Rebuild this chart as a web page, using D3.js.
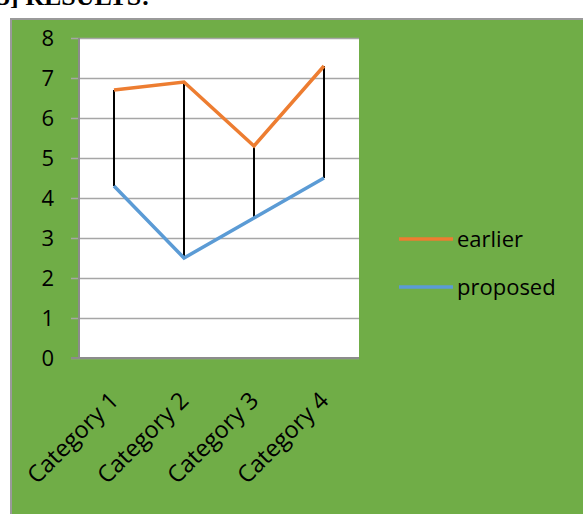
<html>
<head>
<meta charset="UTF-8">
<script src="https://d3js.org/d3.v7.min.js"></script>
<style>
  body { margin: 0; background: #fff; }
  text { font-family: "Open Sans", "Noto Sans", sans-serif; }
</style>
</head>
<body>
<svg id="chart" width="583" height="514"></svg>
<script>
const categories = ['Category 1', 'Category 2', 'Category 3', 'Category 4'];
const earlier = [6.7, 6.9, 5.3, 7.3];
const proposed = [4.3, 2.5, 3.5, 4.5];
const yTicks = [0, 1, 2, 3, 4, 5, 6, 7, 8];
const seriesNames = ['earlier', 'proposed'];
const colors = ['#ED7D31', '#5B9BD5'];

const svg = d3.select('svg#chart');
const plot = {left: 79, right: 359, top: 38, bottom: 358};

// heading cut off at the top
svg.append('text')
   .attr('x', -3).attr('y', 5)
   .style('font-family', '"Liberation Serif", serif')
   .style('font-weight', 'bold')
   .style('font-size', '26px')
   .text('5] RESULTS:');

// green chart background
svg.append('rect')
   .attr('x', 11).attr('y', 19)
   .attr('width', 600).attr('height', 520)
   .attr('fill', '#70AD47')
   .attr('stroke', '#9a9a9a')
   .attr('stroke-width', 2);

svg.append('rect')
   .attr('x', plot.left).attr('y', plot.top)
   .attr('width', plot.right - plot.left).attr('height', plot.bottom - plot.top)
   .attr('fill', '#fff');

const y = d3.scaleLinear().domain([0, 8]).range([plot.bottom, plot.top]);
const x = d3.scaleBand().domain(categories).range([plot.left, plot.right]);
const cx = d => x(d) + x.bandwidth() / 2;

// gridlines + left ticks
const yAxis = d3.axisLeft(y).tickValues(yTicks).tickSize(-(plot.right - plot.left + 8));
const gy = svg.append('g')
   .attr('transform', `translate(${plot.right},0)`)
   .call(yAxis);
gy.select('.domain').remove();
gy.selectAll('.tick line')
   .attr('x1', 0).attr('x2', -(plot.right - plot.left + 8))
   .attr('stroke', '#a6a6a6').attr('stroke-width', 1.5);
gy.selectAll('.tick text')
   .attr('x', -(plot.right - 54))
   .attr('dy', '0.36em')
   .attr('text-anchor', 'end')
   .style('font-family', '"Open Sans", sans-serif')
   .style('font-size', '22px').attr('fill', '#000');

// axis lines
svg.append('line')
   .attr('x1', plot.left).attr('x2', plot.left)
   .attr('y1', plot.top).attr('y2', plot.bottom)
   .attr('stroke', '#8c8c8c').attr('stroke-width', 2);
svg.append('line')
   .attr('x1', 71).attr('x2', plot.right)
   .attr('y1', plot.bottom).attr('y2', plot.bottom)
   .attr('stroke', '#8c8c8c').attr('stroke-width', 2);

// category labels
svg.selectAll('text.cat')
   .data(categories)
   .enter()
   .append('text')
   .attr('class', 'cat')
   .attr('transform', d => `translate(${cx(d) + 6},${plot.bottom + 44}) rotate(-45)`)
   .attr('text-anchor', 'end')
   .style('font-size', '23.5px')
   .text(d => d);

// high-low lines
svg.selectAll('line.hl')
   .data(categories)
   .enter()
   .append('line')
   .attr('x1', d => cx(d)).attr('x2', d => cx(d))
   .attr('y1', (d, i) => y(earlier[i])).attr('y2', (d, i) => y(proposed[i]))
   .attr('stroke', '#000').attr('stroke-width', 2);

const line = d3.line().x((v, i) => cx(categories[i])).y(v => y(v));
[earlier, proposed].forEach((vals, s) => {
  svg.append('path')
     .attr('d', line(vals))
     .attr('fill', 'none')
     .attr('stroke', colors[s])
     .attr('stroke-width', 3.5);
});

// legend
seriesNames.forEach((name, i) => {
  const ly = 239 + i * 48;
  svg.append('line')
     .attr('x1', 399).attr('x2', 453)
     .attr('y1', ly).attr('y2', ly)
     .attr('stroke', colors[i]).attr('stroke-width', 3.5);
  svg.append('text')
     .attr('x', 457).attr('y', ly + 8)
     .style('font-size', '22px')
     .text(name);
});
</script>
</body>
</html>
